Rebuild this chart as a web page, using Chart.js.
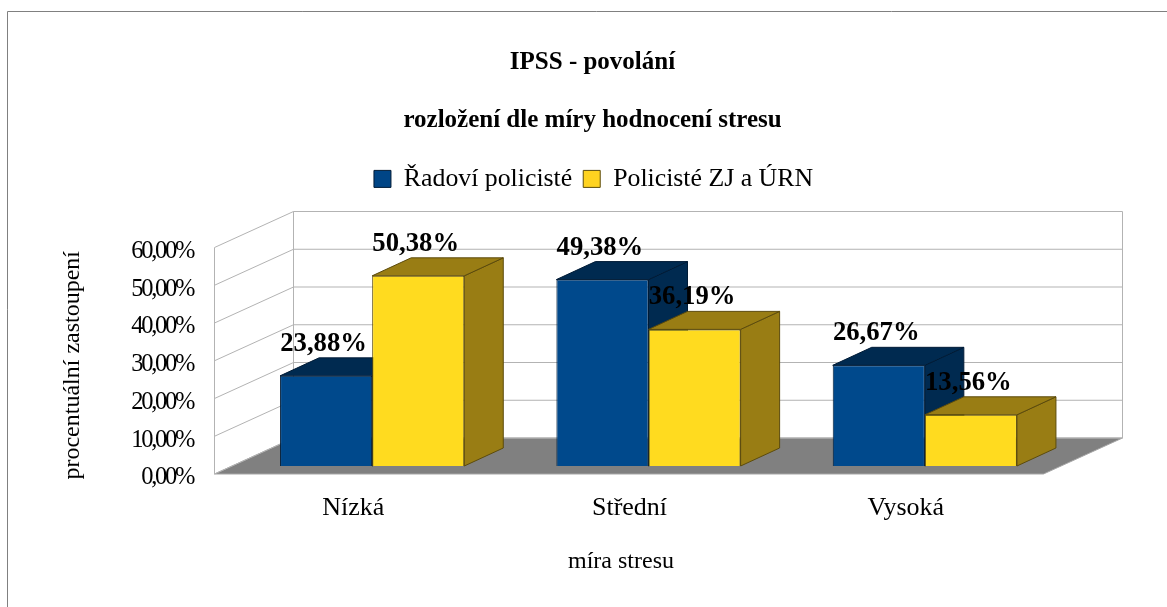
<!DOCTYPE html>
<html><head><meta charset="utf-8">
<script src="https://cdn.jsdelivr.net/npm/chart.js@4"></script>
<style>html,body{margin:0;padding:0;background:#fff;overflow:hidden;width:1167px;height:607px}canvas{display:block}</style>
</head><body><canvas id="c" width="1186" height="607"></canvas>
<script>
const categories = ['Nízká', 'Střední', 'Vysoká'];
const seriesNames = ['Řadoví policisté', 'Policisté ZJ a ÚRN'];
const radovi = [23.88, 49.38, 26.67];
const zj = [50.38, 36.19, 13.56];
const tickLabels = ['0,00%', '10,00%', '20,00%', '30,00%', '40,00%', '50,00%', '60,00%'];
const titleLines = ['IPSS - povolání', 'rozložení dle míry hodnocení stresu'];
const xTitle = 'míra stresu';
const yTitle = 'procentuální zastoupení';

const SERIF = '"Liberation Serif", "Times New Roman", serif';
const frontColors = ['#00498c', '#ffdb1f'];
const legendColors = ['#004586', '#ffd320'];
const darkColors = ['#002a50', '#997d14'];
const edgeColors = ['#001b36', '#5c4b0c'];
const barDepth = {x: 39, y: -18};
const wallDepth = {x: 79, y: -36};
const wallShift = {x: -19.5, y: 8};   // bar plane -> front edge of the walls

function poly(ctx, pts, fill, stroke) {
  ctx.beginPath();
  pts.forEach((p, i) => i ? ctx.lineTo(p[0], p[1]) : ctx.moveTo(p[0], p[1]));
  ctx.closePath();
  if (fill) { ctx.fillStyle = fill; ctx.fill(); }
  if (stroke) { ctx.strokeStyle = stroke; ctx.lineWidth = 1; ctx.stroke(); }
}

const threeD = {
  id: 'threeD',
  beforeLayout(chart) {
    const lg = chart.legend;
    if (!lg._fitWrapped) {
      lg._fitWrapped = true;
      const f = lg.fit;
      lg.fit = function () { f.call(this); this.height = 84.5; };
    }
  },
  afterLayout(chart) {
    // centre title and legend on the full frame, not on the padded box
    chart.titleBlock.left = 0; chart.titleBlock.right = 1185; chart.titleBlock.width = 1185;
    chart.legend.left = 0; chart.legend.right = 1187; chart.legend.width = 1187;
  },
  beforeDraw(chart) {
    const ctx = chart.ctx;
    ctx.save();
    ctx.fillStyle = '#fff';
    ctx.fillRect(0, 0, chart.width, chart.height);
    ctx.strokeStyle = '#808080';
    ctx.lineWidth = 1;
    ctx.beginPath();
    ctx.moveTo(7.5, chart.height);
    ctx.lineTo(7.5, 11.5);
    ctx.lineTo(chart.width, 11.5);
    ctx.stroke();
    ctx.restore();
  },
  beforeDatasetsDraw(chart) {
    const ctx = chart.ctx, a = chart.chartArea, y = chart.scales.y;
    const L = a.left + wallShift.x, R = a.right + wallShift.x;
    const w = wallDepth;
    ctx.save();
    const Y0 = y.getPixelForValue(0) + wallShift.y;
    poly(ctx, [[L, Y0], [L + w.x, Y0 + w.y], [R + w.x, Y0 + w.y], [R, Y0]], '#808080', '#a6a6a6');
    ctx.strokeStyle = '#b3b3b3';
    ctx.lineWidth = 1;
    ctx.beginPath();
    y.ticks.forEach(t => {
      const p = y.getPixelForValue(t.value) + wallShift.y;
      ctx.moveTo(L, p);
      ctx.lineTo(L + w.x, p + w.y);
      ctx.lineTo(R + w.x, p + w.y);
    });
    const top = y.getPixelForValue(60) + wallShift.y;
    ctx.moveTo(L, Y0); ctx.lineTo(L, top);
    ctx.moveTo(L + w.x, Y0 + w.y); ctx.lineTo(L + w.x, top + w.y);
    ctx.moveTo(R + w.x, Y0 + w.y); ctx.lineTo(R + w.x, top + w.y);
    ctx.stroke();

    const d = barDepth;
    categories.forEach((_, i) => {
      chart.data.datasets.forEach((ds, k) => {
        const el = chart.getDatasetMeta(k).data[i];
        const l = el.x - el.width / 2, r = el.x + el.width / 2, t = el.y, b = el.base;
        poly(ctx, [[r, t], [r + d.x, t + d.y], [r + d.x, b + d.y], [r, b]], darkColors[k], edgeColors[k]);
        poly(ctx, [[l, t], [l + d.x, t + d.y], [r + d.x, t + d.y], [r, t]], darkColors[k], edgeColors[k]);
        el.draw(ctx);
      });
    });
    ctx.restore();
    return false;
  },
  afterDraw(chart) {
    const ctx = chart.ctx;
    ctx.save();
    ctx.fillStyle = '#000';
    ctx.font = 'bold 26.7px ' + SERIF;
    ctx.textAlign = 'center';
    ctx.textBaseline = 'alphabetic';
    chart.data.datasets.forEach((ds, k) => {
      chart.getDatasetMeta(k).data.forEach((el, i) => {
        const txt = ds.data[i].toFixed(2).replace('.', ',') + '%';
        ctx.fillText(txt, el.x - 2.5, el.y - 25);
      });
    });
    ctx.restore();
  }
};

function shiftTitle(scale, dx, dy) {
  if (scale._wrapped) return;
  scale._wrapped = true;
  const orig = scale.drawTitle;
  scale.drawTitle = function () {
    const c = this.ctx;
    c.save(); c.translate(dx, dy);
    orig.apply(this, arguments);
    c.restore();
  };
}
function spaceLabels(scale, spacing) {
  if (scale._spaced) return;
  scale._spaced = true;
  const orig = scale.drawLabels;
  scale.drawLabels = function () {
    const c = this.ctx;
    c.save(); c.letterSpacing = spacing;
    orig.apply(this, arguments);
    c.restore();
  };
}

new Chart(document.getElementById('c'), {
  type: 'bar',
  data: {
    labels: categories,
    datasets: [
      {label: seriesNames[0], data: radovi, backgroundColor: frontColors[0], borderColor: edgeColors[0], borderWidth: 1},
      {label: seriesNames[1], data: zj, backgroundColor: frontColors[1], borderColor: edgeColors[1], borderWidth: 1}
    ]
  },
  options: {
    responsive: false,
    animation: false,
    events: [],
    layout: {padding: {left: 0, right: 123, top: 0, bottom: 0}},
    datasets: {bar: {barPercentage: 1, categoryPercentage: 2 / 3}},
    plugins: {
      tooltip: {enabled: false},
      title: {
        display: true,
        text: titleLines,
        color: '#000',
        font: {family: SERIF, size: 25, weight: 'bold', lineHeight: 58 / 25},
        padding: {top: 34, bottom: 5}
      },
      legend: {
        display: true,
        position: 'top',
        labels: {
          color: '#000',
          font: {family: SERIF, size: 25.8},
          boxWidth: 17, boxHeight: 17, padding: 11,
          generateLabels(chart) {
            return Chart.defaults.plugins.legend.labels.generateLabels(chart)
              .map((it, i) => Object.assign(it, {fillStyle: legendColors[i]}));
          }
        }
      }
    },
    scales: {
      x: {
        grid: {display: false, drawTicks: false},
        border: {display: false},
        ticks: {color: '#000', font: {family: SERIF, size: 26}, padding: 27, labelOffset: -19, maxRotation: 0, autoSkip: false},
        title: {display: true, text: xTitle, color: '#000', font: {family: SERIF, size: 24}, padding: {top: 0, bottom: 31}},
        afterFit(s) { s.height = 141; shiftTitle(s, -27.5, 0); }
      },
      y: {
        min: 0, max: 60,
        grid: {display: false, drawTicks: false},
        border: {display: false},
        ticks: {
          stepSize: 10, color: '#000', font: {family: SERIF, size: 24.5}, padding: 41, labelOffset: 12,
          callback: (v, i) => tickLabels[i]
        },
        title: {display: true, text: yTitle, color: '#000', font: {family: SERIF, size: 24}, padding: {top: 58, bottom: 0}},
        afterFit(s) { s.width = 234; shiftTitle(s, 0, 12.5); spaceLabels(s, '-2.3px'); }
      }
    }
  },
  plugins: [threeD]
});
</script></body></html>
